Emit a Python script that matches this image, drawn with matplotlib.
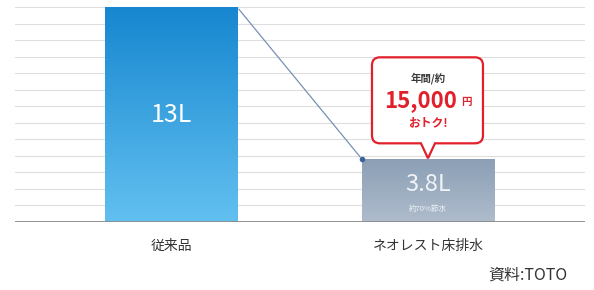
#!/usr/bin/env python3
"""Water use per flush: conventional toilet vs Neorest floor drain."""

import matplotlib
matplotlib.use("Agg")
import matplotlib.pyplot as plt
import matplotlib.transforms as mtransforms
import numpy as np
from matplotlib.colors import LinearSegmentedColormap
from matplotlib.path import Path
from matplotlib.patches import PathPatch

plt.rcParams["font.family"] = ["Noto Sans CJK JP", "DejaVu Sans"]

categories = ["従来品", "ネオレスト床排水"]
liters = [13, 3.8]
value_labels = ["13L", "3.8L"]
sub_labels = ["", "約70%節水"]
callout_lines = ["年間/約", "15,000", "円", "おトク!"]
source = "資料:TOTO"

grad_colors = [("#1787d0", "#62c0f0"), ("#8c9fb5", "#aebccc")]
RED = "#e2202c"

fig = plt.figure(figsize=(5.94, 2.90), dpi=100)
ax = fig.add_axes([15 / 594, 68 / 290, 570 / 594, 215 / 290])

x = np.arange(len(categories))
width = 0.514
ax.set_xlim(-0.607, 1.611)
ax.set_ylim(0, 13)

# gridlines every liter
for y in range(1, 14):
    ax.axhline(y, color="#dedede", lw=0.8, zorder=0)
ax.axhline(0, color="#8a8a8a", lw=1.3, zorder=4)

for xi, val, (top_c, bot_c) in zip(x, liters, grad_colors):
    bar = ax.bar(xi, val, width, color="none", zorder=2)[0]
    cmap = LinearSegmentedColormap.from_list("g", [bot_c, top_c])
    grad = np.linspace(0, 1, 100).reshape(-1, 1)
    im = ax.imshow(grad, cmap=cmap, aspect="auto", origin="lower",
                   extent=(xi - width / 2, xi + width / 2, 0, val), zorder=2)
    im.set_clip_path(bar)

ax.text(x[0], liters[0] * 0.5, value_labels[0], color="white", fontsize=18,
        ha="center", va="center", zorder=5)
ax.text(x[1], liters[1] * 0.6, value_labels[1], color="#f0f4f8", fontsize=17,
        ha="center", va="center", zorder=5)
ax.text(x[1], liters[1] * 0.2, sub_labels[1], color="#eef2f6", fontsize=5.5,
        ha="center", va="center", zorder=5)

# connector line between bar tops
ax.annotate("", xy=(x[1] - width / 2, liters[1]), xytext=(x[0] + width / 2, liters[0]),
            arrowprops=dict(arrowstyle="-", color="#7890b4", lw=0.9), zorder=3)
ax.plot(x[1] - width / 2, liters[1], "o", color="#3d62a0", ms=3, zorder=3)

# speech-bubble callout, built in pixels relative to the top of the second bar
r = 8
L, R, B, T = -56, 55, 15, 101
verts = [(0, 0), (7, B), (R - r, B), (R, B), (R, B + r), (R, T - r), (R, T),
         (R - r, T), (L + r, T), (L, T), (L, T - r), (L, B + r), (L, B),
         (L + r, B), (-7, B), (0, 0)]
codes = [Path.MOVETO, Path.LINETO, Path.LINETO, Path.CURVE3, Path.CURVE3,
         Path.LINETO, Path.CURVE3, Path.CURVE3, Path.LINETO, Path.CURVE3,
         Path.CURVE3, Path.LINETO, Path.CURVE3, Path.CURVE3, Path.LINETO,
         Path.CLOSEPOLY]
anchor = mtransforms.ScaledTranslation(x[1], liters[1] + 0.05, ax.transData)
trans = mtransforms.Affine2D() + anchor
bubble = PathPatch(Path(verts, codes), transform=trans, facecolor="white",
                   edgecolor=RED, lw=1.6, zorder=6, clip_on=False)
ax.add_patch(bubble)


def px(dx, dy):
    return mtransforms.Affine2D().translate(dx, dy) + anchor


ax.text(0, 0, callout_lines[0], transform=px(0, 80), color="#3a3a3a", fontsize=7.5,
        fontweight="bold", ha="center", va="center", zorder=7)
ax.text(0, 0, callout_lines[1], transform=px(-7, 58), color=RED, fontsize=16,
        fontweight="bold", ha="center", va="center", zorder=7)
ax.text(0, 0, callout_lines[2], transform=px(38, 56), color=RED, fontsize=7.5,
        fontweight="bold", ha="center", va="center", zorder=7)
ax.text(0, 0, callout_lines[3], transform=px(0, 36), color=RED, fontsize=8.5,
        fontweight="bold", ha="center", va="center", zorder=7)

ax.set_xticks(x)
ax.set_xticklabels(categories, fontsize=10, color="#333333")
ax.tick_params(axis="x", length=0, pad=12)
ax.set_yticks([])
for s in ax.spines.values():
    s.set_visible(False)

fig.text(528 / 594, 1 - 275 / 290, source, fontsize=11.5, color="#333333",
         ha="center", va="center")

fig.savefig("out.png", dpi=100)
